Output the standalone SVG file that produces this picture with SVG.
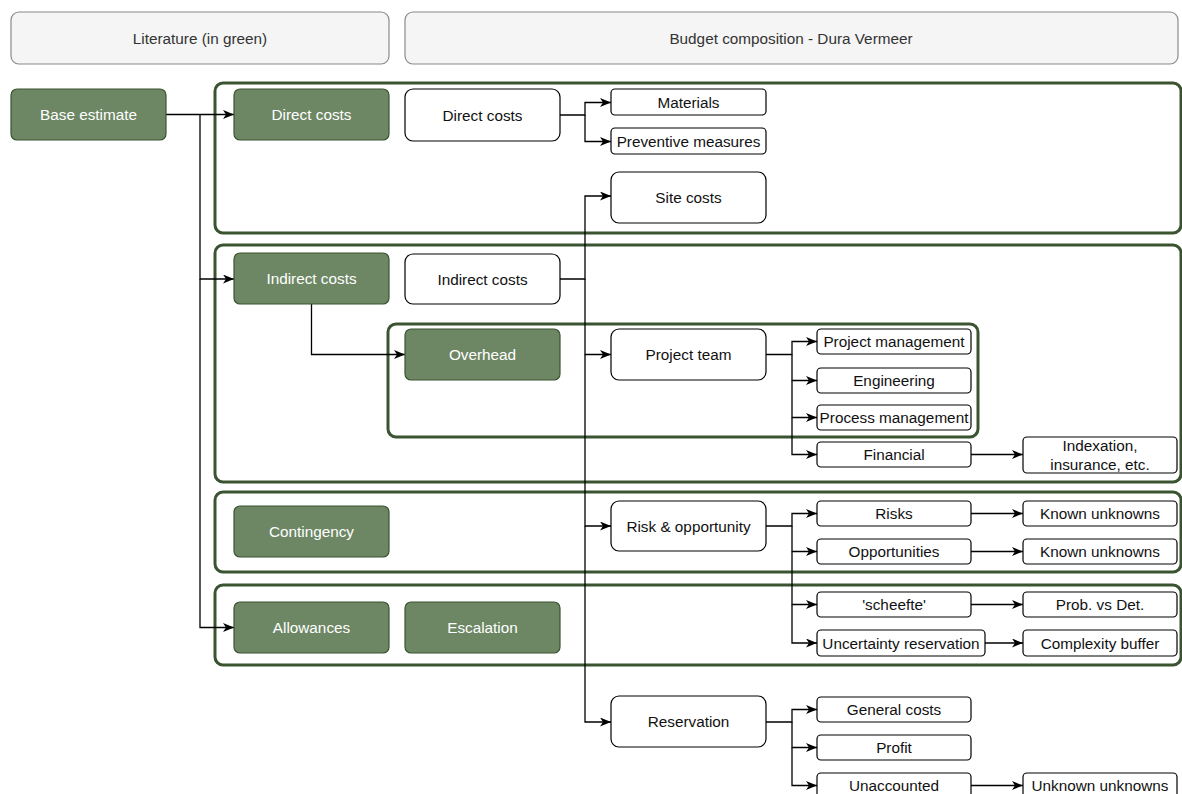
<svg xmlns="http://www.w3.org/2000/svg" width="1182" height="794" viewBox="0 0 1182 794">
<defs>
<marker id="arr" markerUnits="userSpaceOnUse" markerWidth="12" markerHeight="10" refX="11" refY="4.5" orient="auto">
<path d="M0,0 L11,4.5 L0,9 L3,4.5 Z" fill="#000"/>
</marker>
<style>
text{font-family:"Liberation Sans",Arial,sans-serif;font-size:15.3px;text-anchor:middle;dominant-baseline:central;fill:#111}
.hdr rect{fill:#f5f5f5;stroke:#8a8a8a;stroke-width:1.2}
.hdr text{fill:#333}
.grp{fill:none;stroke:#3a5431;stroke-width:3}
.g rect{fill:#6d8764;stroke:#3a5431;stroke-width:1.2}
.g text{fill:#fff}
.w rect{fill:#fff;stroke:#000;stroke-width:1.2}
.c path{fill:none;stroke:#000;stroke-width:1.3}
</style>
</defs>
<rect width="1182" height="794" fill="#fff"/>

<g id="hdr-lit" class="hdr"><rect x="11" y="12" width="378" height="52" rx="8"/><text x="200" y="38">Literature (in green)</text></g>
<g id="hdr-budget" class="hdr"><rect x="405" y="12" width="773" height="52" rx="8"/><text x="791" y="38">Budget composition - Dura Vermeer</text></g>

<g id="containers">
<rect id="grp-direct" class="grp" x="215" y="83" width="966" height="150" rx="8"/>
<rect id="grp-indirect" class="grp" x="215" y="245" width="966" height="237" rx="8"/>
<rect id="grp-overhead" class="grp" x="388" y="324" width="590" height="113" rx="8"/>
<rect id="grp-contingency" class="grp" x="215" y="492" width="966" height="80" rx="8"/>
<rect id="grp-allowances" class="grp" x="215" y="585" width="966" height="80" rx="8"/>
</g>

<g id="connectors" class="c">
<path d="M166,114.5 H234" marker-end="url(#arr)"/>
<path d="M200,114.5 V279 H234" marker-end="url(#arr)"/>
<path d="M200,279 V627.5 H234" marker-end="url(#arr)"/>
<path d="M560,115 H585 V102.5 H611" marker-end="url(#arr)"/>
<path d="M585,115 V141.5 H611" marker-end="url(#arr)"/>
<path d="M311.5,304 V354.5 H405" marker-end="url(#arr)"/>
<path d="M560,279 H585 V196 H611" marker-end="url(#arr)"/>
<path d="M585,279 V354.5 H611" marker-end="url(#arr)"/>
<path d="M585,354.5 V526 H611" marker-end="url(#arr)"/>
<path d="M585,526 V722 H611" marker-end="url(#arr)"/>
<path d="M766,354.5 H792 V341.5 H817" marker-end="url(#arr)"/>
<path d="M792,354.5 V380.5 H817" marker-end="url(#arr)"/>
<path d="M792,380.5 V417.5 H817" marker-end="url(#arr)"/>
<path d="M792,417.5 V454.5 H817" marker-end="url(#arr)"/>
<path d="M971,454.5 H1023" marker-end="url(#arr)"/>
<path d="M766,526 H792 V513.5 H817" marker-end="url(#arr)"/>
<path d="M792,526 V551.5 H817" marker-end="url(#arr)"/>
<path d="M792,551.5 V604.5 H817" marker-end="url(#arr)"/>
<path d="M792,604.5 V643 H817" marker-end="url(#arr)"/>
<path d="M971,513.5 H1023" marker-end="url(#arr)"/>
<path d="M971,551.5 H1023" marker-end="url(#arr)"/>
<path d="M971,604.5 H1023" marker-end="url(#arr)"/>
<path d="M985,643 H1023" marker-end="url(#arr)"/>
<path d="M766,722 H792 V709.5 H817" marker-end="url(#arr)"/>
<path d="M792,722 V747.5 H817" marker-end="url(#arr)"/>
<path d="M792,747.5 V785.5 H817" marker-end="url(#arr)"/>
<path d="M971,785.5 H1023" marker-end="url(#arr)"/>
</g>

<g id="base-estimate" class="g"><rect x="11" y="89" width="155" height="51" rx="6"/><text x="88.5" y="114.5">Base estimate</text></g>
<g id="direct-costs-lit" class="g"><rect x="234" y="89" width="155" height="51" rx="6"/><text x="311.5" y="114.5">Direct costs</text></g>
<g id="indirect-costs-lit" class="g"><rect x="234" y="253" width="155" height="51" rx="6"/><text x="311.5" y="278.5">Indirect costs</text></g>
<g id="overhead" class="g"><rect x="405" y="329" width="155" height="51" rx="6"/><text x="482.5" y="354.5">Overhead</text></g>
<g id="contingency" class="g"><rect x="234" y="506" width="155" height="51" rx="6"/><text x="311.5" y="531.5">Contingency</text></g>
<g id="allowances" class="g"><rect x="234" y="602" width="155" height="51" rx="6"/><text x="311.5" y="627.5">Allowances</text></g>
<g id="escalation" class="g"><rect x="405" y="602" width="155" height="51" rx="6"/><text x="482.5" y="627.5">Escalation</text></g>

<g id="direct-costs" class="w"><rect x="405" y="89" width="155" height="52" rx="8"/><text x="482.5" y="115">Direct costs</text></g>
<g id="site-costs" class="w"><rect x="611" y="172" width="155" height="51" rx="8"/><text x="688.5" y="197.5">Site costs</text></g>
<g id="indirect-costs" class="w"><rect x="405" y="254" width="155" height="50" rx="8"/><text x="482.5" y="279">Indirect costs</text></g>
<g id="project-team" class="w"><rect x="611" y="329" width="155" height="51" rx="8"/><text x="688.5" y="354.5">Project team</text></g>
<g id="risk-opportunity" class="w"><rect x="611" y="501" width="155" height="50" rx="8"/><text x="688.5" y="526">Risk &amp; opportunity</text></g>
<g id="reservation" class="w"><rect x="611" y="696" width="155" height="51" rx="8"/><text x="688.5" y="721.5">Reservation</text></g>

<g id="materials" class="w"><rect x="611" y="89" width="155" height="26" rx="4"/><text x="688.5" y="102">Materials</text></g>
<g id="preventive-measures" class="w"><rect x="611" y="128" width="155" height="26" rx="4"/><text x="688.5" y="141">Preventive measures</text></g>
<g id="project-management" class="w"><rect x="817" y="329" width="154" height="25" rx="4"/><text x="894" y="341.5">Project management</text></g>
<g id="engineering" class="w"><rect x="817" y="368" width="154" height="25" rx="4"/><text x="894" y="380.5">Engineering</text></g>
<g id="process-management" class="w"><rect x="817" y="405" width="154" height="25" rx="4"/><text x="894" y="417.5">Process management</text></g>
<g id="financial" class="w"><rect x="817" y="442" width="154" height="25" rx="4"/><text x="894" y="454.5">Financial</text></g>
<g id="indexation" class="w"><rect x="1023" y="437" width="154" height="36" rx="4"/><text x="1100" y="445.5">Indexation,</text><text x="1100" y="464">insurance, etc.</text></g>
<g id="risks" class="w"><rect x="817" y="501" width="154" height="25" rx="4"/><text x="894" y="513.5">Risks</text></g>
<g id="opportunities" class="w"><rect x="817" y="539" width="154" height="25" rx="4"/><text x="894" y="551.5">Opportunities</text></g>
<g id="known-unknowns-1" class="w"><rect x="1023" y="501" width="154" height="25" rx="4"/><text x="1100" y="513.5">Known unknowns</text></g>
<g id="known-unknowns-2" class="w"><rect x="1023" y="539" width="154" height="25" rx="4"/><text x="1100" y="551.5">Known unknowns</text></g>
<g id="scheefte" class="w"><rect x="817" y="592" width="154" height="25" rx="4"/><text x="894" y="604.5">'scheefte'</text></g>
<g id="prob-vs-det" class="w"><rect x="1023" y="592" width="154" height="25" rx="4"/><text x="1100" y="604.5">Prob. vs Det.</text></g>
<g id="uncertainty-reservation" class="w"><rect x="817" y="630" width="168" height="26" rx="4"/><text x="901" y="643">Uncertainty reservation</text></g>
<g id="complexity-buffer" class="w"><rect x="1023" y="630" width="154" height="26" rx="4"/><text x="1100" y="643">Complexity buffer</text></g>
<g id="general-costs" class="w"><rect x="817" y="697" width="154" height="25" rx="4"/><text x="894" y="709.5">General costs</text></g>
<g id="profit" class="w"><rect x="817" y="735" width="154" height="25" rx="4"/><text x="894" y="747.5">Profit</text></g>
<g id="unaccounted" class="w"><rect x="817" y="773" width="154" height="25" rx="4"/><text x="894" y="785.5">Unaccounted</text></g>
<g id="unknown-unknowns" class="w"><rect x="1023" y="773" width="154" height="25" rx="4"/><text x="1100" y="785.5">Unknown unknowns</text></g>
</svg>
